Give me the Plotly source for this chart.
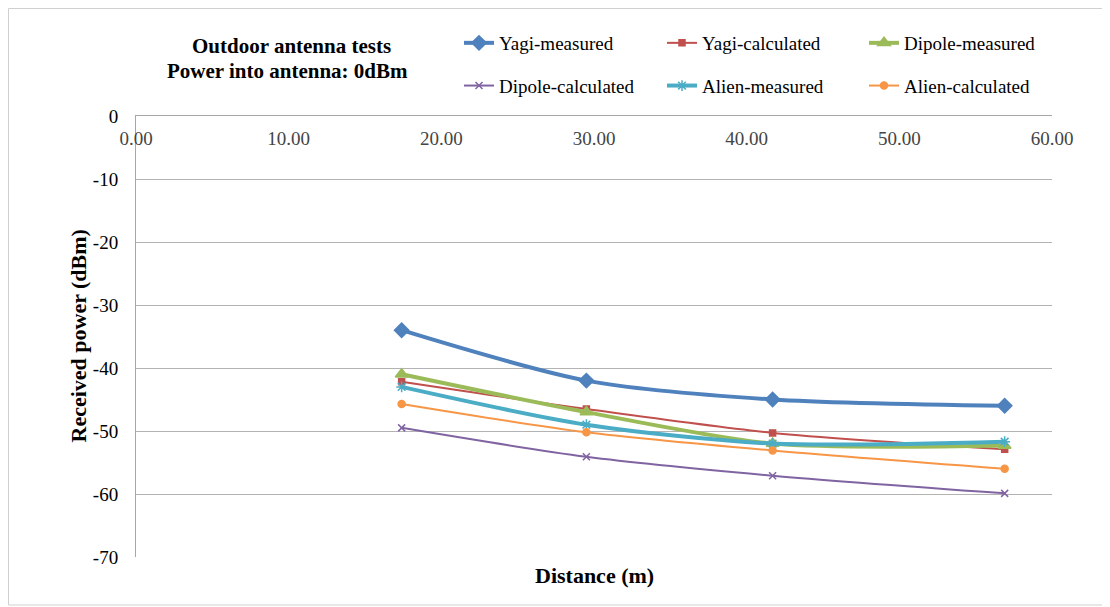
import plotly.graph_objects as go

distance = [17.4, 29.5, 41.7, 56.9]
yagi_measured = [-34.0, -42.0, -45.0, -46.0]
yagi_calculated = [-42.2, -46.5, -50.3, -52.9]
dipole_measured = [-41.0, -47.0, -52.0, -52.3]
dipole_calculated = [-49.5, -54.1, -57.1, -59.9]
alien_measured = [-43.0, -49.0, -52.0, -51.7]
alien_calculated = [-45.7, -50.2, -53.1, -56.0]

x_ticks = [0, 10, 20, 30, 40, 50, 60]
x_tick_labels = ["0.00", "10.00", "20.00", "30.00", "40.00", "50.00", "60.00"]
y_ticks = [0, -10, -20, -30, -40, -50, -60, -70]
y_tick_labels = ["0", "-10", "-20", "-30", "-40", "-50", "-60", "-70"]

FONT = "Liberation Serif"

# page offset (default body margin of the html page)
OFF = 8
FW, FH = 1110 - OFF, 607 - OFF

# plot area in reference-screen pixels, converted to figure pixels
L, R, T, B = 136 - OFF, 1052 - OFF, 116 - OFF, 557 - OFF
PW, PH = R - L, B - T


def px(xs):
    return (xs - OFF - L) / PW


def py(ys):
    return (B - (ys - OFF)) / PH


series = [
    ("Yagi-measured", yagi_measured, "#4F81BD", 4, "diamond", 11, "legend"),
    ("Yagi-calculated", yagi_calculated, "#C0504D", 2, "square", 6, "legend2"),
    ("Dipole-measured", dipole_measured, "#9BBB59", 4, "triangle-up", 11, "legend3"),
    ("Dipole-calculated", dipole_calculated, "#8064A2", 2, "x-thin-open", 7, "legend"),
    ("Alien-measured", alien_measured, "#4BACC6", 4, "asterisk-open", 9, "legend2"),
    ("Alien-calculated", alien_calculated, "#F79646", 2, "circle", 7, "legend3"),
]

fig = go.Figure()
for name, vals, color, width, sym, size, leg in series:
    fig.add_trace(go.Scatter(
        x=distance, y=vals, name=name, mode="lines+markers",
        line=dict(color=color, width=width, shape="spline", smoothing=0.8),
        marker=dict(symbol=sym, size=size, color=color,
                    line=dict(color=color, width=1.5)),
        legend=leg, legendgroup=name,
    ))

leg_common = dict(orientation="v", yanchor="top", xanchor="left",
                  tracegroupgap=15, bgcolor="rgba(0,0,0,0)",
                  font=dict(family=FONT, size=19, color="#000000"))

fig.update_layout(
    width=FW, height=FH,
    margin=dict(l=L, r=FW - R, t=T, b=FH - B, autoexpand=False),
    paper_bgcolor="white", plot_bgcolor="white",
    font=dict(family=FONT, size=19, color="#000000"),
    showlegend=True,
    legend=dict(x=px(459), y=py(24), **leg_common),
    legend2=dict(x=px(662), y=py(24), **leg_common),
    legend3=dict(x=px(864), y=py(24), **leg_common),
    xaxis=dict(
        range=[0, 60], side="top", tickvals=x_ticks, ticktext=x_tick_labels,
        ticklabelposition="inside", ticklabeloverflow="allow", ticklabelstandoff=17,
        showgrid=False, zeroline=False,
        showline=True, linecolor="#a6a6a6", linewidth=1,
        ticks="", tickfont=dict(family=FONT, size=19),
    ),
    yaxis=dict(
        range=[-70, 0], tickvals=y_ticks, ticktext=y_tick_labels,
        ticklabeloverflow="allow",
        showgrid=True, gridcolor="#b3b3b3",
        gridwidth=1, zeroline=False, showline=True, linecolor="#a6a6a6",
        ticks="outside", ticklen=13, tickcolor="rgba(0,0,0,0)",
        tickfont=dict(family=FONT, size=19),
    ),
    annotations=[
        dict(text="<b>Outdoor antenna tests</b>",
             xref="paper", yref="paper", x=px(291), y=py(46),
             xanchor="center", yanchor="middle", showarrow=False,
             font=dict(family=FONT, size=21)),
        dict(text="<b>Power into antenna: 0dBm</b>",
             xref="paper", yref="paper", x=px(287), y=py(71),
             xanchor="center", yanchor="middle", showarrow=False,
             font=dict(family=FONT, size=21)),
        dict(text="<b>Distance (m)</b>", xref="paper", yref="paper",
             x=0.5, y=py(575), xanchor="center", yanchor="middle",
             showarrow=False, font=dict(family=FONT, size=22)),
        dict(text="<b>Received power (dBm)</b>", xref="paper", yref="paper",
             x=px(78), y=0.5, xanchor="center", yanchor="middle", textangle=-90,
             showarrow=False, font=dict(family=FONT, size=22)),
    ],
    shapes=[
        dict(type="rect", xref="paper", yref="paper",
             x0=px(8.5), x1=px(1108), y0=py(605), y1=py(8.5),
             line=dict(color="#d0d0d0", width=1), layer="below"),
    ],
)

fig.write_html("out.html")
